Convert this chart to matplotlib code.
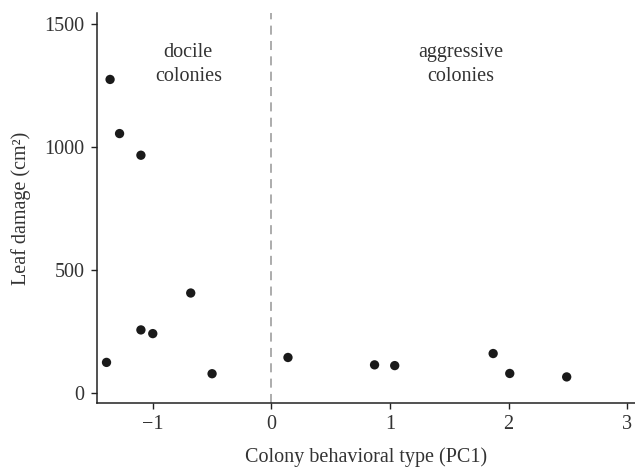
import matplotlib
matplotlib.use("Agg")
import matplotlib.pyplot as plt

# colony behavioral type (PC1) vs leaf damage (cm2)
pc1 = [-1.36, -1.28, -1.10, -1.39, -1.10, -1.00, -0.68, -0.50,
       0.14, 0.87, 1.04, 1.87, 2.01, 2.49]
damage = [1275, 1055, 967, 125, 257, 242, 407, 79,
          145, 115, 112, 161, 80, 66]
xticks = [-1, 0, 1, 2, 3]
yticks = [0, 500, 1000, 1500]

plt.rcParams["font.family"] = ["Liberation Serif", "DejaVu Serif"]

fig = plt.figure(figsize=(6.35, 4.68), dpi=100)
ax = fig.add_axes([0.1528, 0.1389, 0.8472, 0.8333])

ax.scatter(pc1, damage, s=45, c="#1a1a1a", edgecolors="none", zorder=3)
ax.axvline(0, color="#a6a6a6", lw=1.3, ls=(0, (5, 3.5)), zorder=1)

ax.text(-0.70, 1335, "docile\ncolonies", ha="center", va="center",
        fontsize=14.5, color="#333333", linespacing=1.35)
ax.text(1.60, 1335, "aggressive\ncolonies", ha="center", va="center",
        fontsize=14.5, color="#333333", linespacing=1.35)

ax.set_xlim(-1.47, 3.066)
ax.set_ylim(-40, 1545)
ax.set_xticks(xticks)
ax.set_yticks(yticks)
ax.set_xticklabels(["\u22121", "0", "1", "2", "3"])

for s in ["top", "right"]:
    ax.spines[s].set_visible(False)
for s in ["left", "bottom"]:
    ax.spines[s].set_linewidth(1.1)
    ax.spines[s].set_color("#222222")
ax.tick_params(direction="out", length=4, width=1, colors="#222222",
               labelsize=14.5, labelcolor="#333333", pad=5)

ax.set_xlabel("Colony behavioral type (PC1)", fontsize=14.5, color="#333333",
              labelpad=9)
ax.set_ylabel("Leaf damage (cm\u00b2)", fontsize=14.5, color="#333333",
              labelpad=10)

fig.savefig("out.png", dpi=100)
